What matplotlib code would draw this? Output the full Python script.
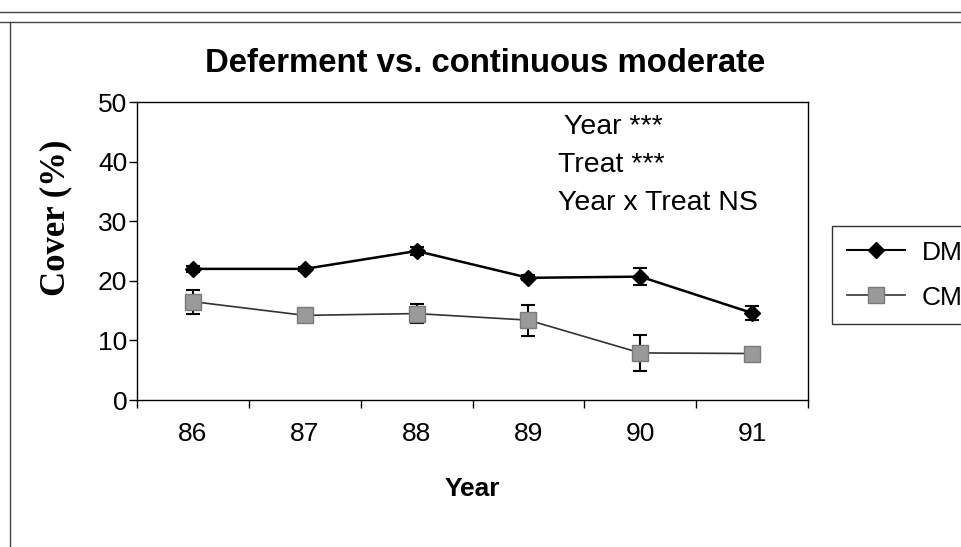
import matplotlib.pyplot as plt
from matplotlib.lines import Line2D

years = ['86', '87', '88', '89', '90', '91']
dm = [22.0, 22.0, 25.0, 20.5, 20.7, 14.6]
dm_err = [0.5, 0.3, 0.6, 0.4, 1.4, 1.1]
cm = [16.5, 14.2, 14.5, 13.4, 7.9, 7.8]
cm_err = [2.0, 0.5, 1.6, 2.6, 3.0, 0.5]
stats = ['Year ***', 'Treat ***', 'Year x Treat NS']

plt.rcParams['font.family'] = ['Liberation Sans', 'DejaVu Sans']

fig = plt.figure(figsize=(9.61, 5.47), dpi=100)
ax = fig.add_axes([137/961, 1-400/547, 671/961, 298/547])

x = list(range(len(years)))
ax.errorbar(x, dm, yerr=dm_err, color='black', lw=1.8, marker='D', ms=8,
            mfc='black', mec='black', ecolor='black', elinewidth=1.5,
            capsize=5, capthick=1.5, label='DM', zorder=3)
ax.errorbar(x, cm, yerr=cm_err, color='#333333', lw=1.2, marker='s', ms=11,
            mfc='#9a9a9a', mec='#7a7a7a', ecolor='black', elinewidth=1.5,
            capsize=5, capthick=1.5, label='CM', zorder=2)

ax.set_xlim(-0.5, len(years)-0.5)
ax.set_ylim(0, 50)
ax.set_yticks(range(0, 51, 10))
ax.tick_params(axis='y', direction='out', length=6, width=1, labelsize=19, pad=1)
ax.set_xticks(x)
ax.set_xticklabels(years)
ax.tick_params(axis='x', which='major', length=0, labelsize=19, pad=16)
ax.set_xticks([i - 0.5 for i in range(len(years)+1)], minor=True)
ax.tick_params(axis='x', which='minor', direction='out', length=6, width=1)
for s in ax.spines.values():
    s.set_linewidth(1)
    s.set_color('black')

ax.set_xlabel('Year', fontsize=19, fontweight='bold', labelpad=22)
ax.set_ylabel('Cover (%)', fontsize=25, fontweight='bold',
              family=['Liberation Serif', 'DejaVu Serif'])
ax.yaxis.set_label_coords(-0.097, (400-218)/298)

ax.text(0.636, 0.916, stats[0], transform=ax.transAxes, fontsize=20.5, va='center')
ax.text(0.627, 0.789, stats[1], transform=ax.transAxes, fontsize=20.5, va='center')
ax.text(0.627, 0.660, stats[2], transform=ax.transAxes, fontsize=20.5, va='center')

fig.text(485/961, 1-64/547, 'Deferment vs. continuous moderate', fontsize=23.7,
         fontweight='bold', ha='center', va='center')

# legend runs off the right edge, as in the scanned original
handles = [Line2D([], [], color='black', lw=1.5, marker='D', ms=8, mfc='black', mec='black'),
           Line2D([], [], color='#333333', lw=1.2, marker='s', ms=11, mfc='#9a9a9a', mec='#7a7a7a')]
leg = fig.legend(handles, ['DM', 'CM'], loc='upper left',
                 bbox_to_anchor=(832/961, 1-226/547), fontsize=19, frameon=True,
                 fancybox=False, borderaxespad=0, handlelength=2.2,
                 handletextpad=0.65, borderpad=0.55, labelspacing=0.8)
leg.get_frame().set_edgecolor('black')
leg.get_frame().set_linewidth(1)

# scanned page border
fig.add_artist(Line2D([0, 1], [1-12/547, 1-12/547], color='#444444', lw=1))
fig.add_artist(Line2D([0, 1], [1-22/547, 1-22/547], color='#444444', lw=1))
fig.add_artist(Line2D([10/961, 10/961], [0, 1-22/547], color='#444444', lw=1))

fig.savefig('out.png', dpi=100)
